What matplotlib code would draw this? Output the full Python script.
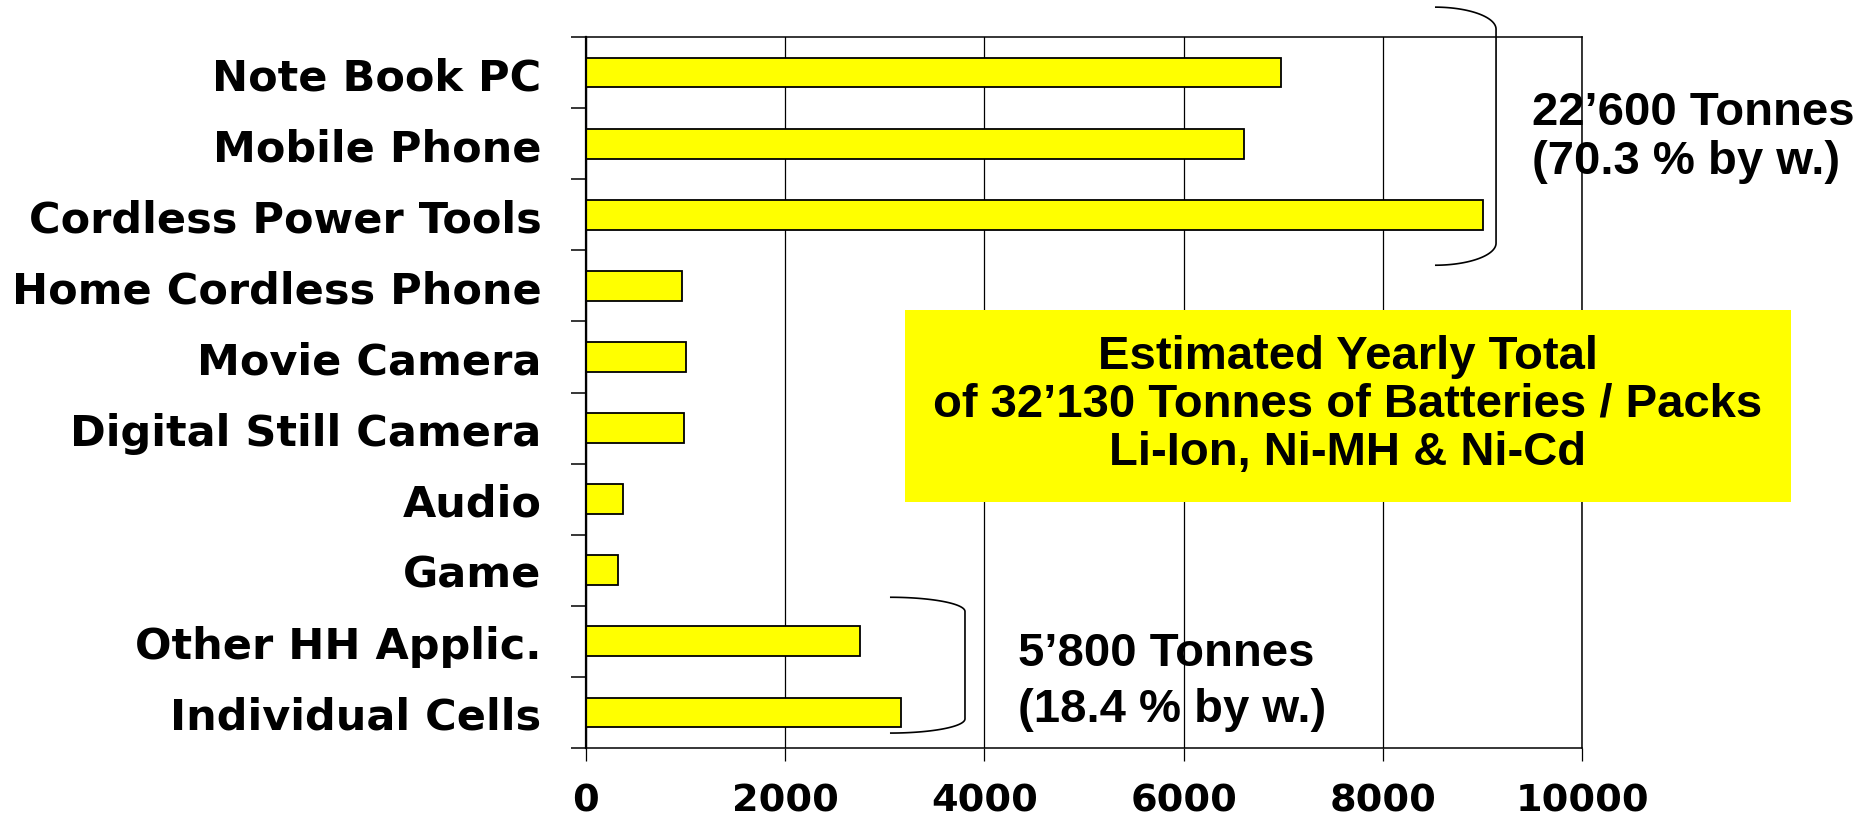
import numpy as np
import matplotlib
matplotlib.use("Agg")
import matplotlib.pyplot as plt
from matplotlib.patches import Rectangle
from matplotlib.ticker import FixedLocator

categories = ['Note Book PC', 'Mobile Phone', 'Cordless Power Tools', 'Home Cordless Phone',
              'Movie Camera', 'Digital Still Camera', 'Audio', 'Game',
              'Other HH Applic.', 'Individual Cells']
tonnes = [6980, 6610, 9010, 960, 1000, 980, 370, 320, 2750, 3160]
x_ticks = [0, 2000, 4000, 6000, 8000, 10000]

big_group = "22\u2019600 Tonnes\n(70.3 % by w.)"
small_group = "5\u2019800 Tonnes\n(18.4 % by w.)"
total_text = ("Estimated Yearly Total\n"
              "of 32\u2019130 Tonnes of Batteries / Packs\n"
              "Li-Ion, Ni-MH & Ni-Cd")

W, H = 1864, 820


def bracket(ax, x_open, x_spine, y_top, y_bot, dy):
    # curly-ish bracket: rounded corners joined by a vertical stroke
    t = np.linspace(0, np.pi / 2, 40)
    rx = x_spine - x_open
    xs_top = x_open + rx * np.sin(t)
    ys_top = y_top + dy - dy * np.cos(t)
    xs_bot = x_open + rx * np.cos(t)
    ys_bot = y_bot - dy + dy * np.sin(t)
    ax.plot(np.r_[xs_top, xs_bot], np.r_[ys_top, ys_bot], color='black',
            lw=1.2, clip_on=False, zorder=3, solid_capstyle='butt')


fig = plt.figure(figsize=(W / 100, H / 100), dpi=100)
ax = fig.add_axes([586 / W, 71 / H, 996 / W, 711 / H])

y = np.arange(len(categories))
ax.barh(y, tonnes, height=0.42, color='#FFFF00', edgecolor='black',
        linewidth=1.3, zorder=1)

ax.set_xlim(0, 10000)
ax.set_ylim(len(categories) - 0.5, -0.5)
ax.set_xticks(x_ticks)
ax.set_xticklabels([str(v) for v in x_ticks], fontsize=27.5, fontweight='bold',
                   family='DejaVu Sans')
ax.set_yticks(y)
ax.set_yticklabels(categories, fontsize=31, fontweight='bold', family='DejaVu Sans')
ax.yaxis.set_minor_locator(FixedLocator(np.arange(-0.5, len(categories), 1)))

ax.tick_params(axis='y', which='major', length=0, pad=32)
ax.tick_params(axis='y', which='minor', length=11, width=1.1, direction='out')
ax.tick_params(axis='x', which='major', length=9, width=0.9, direction='out', pad=16)

ax.grid(axis='x', color='black', lw=0.9)
ax.set_axisbelow(True)
for side in ['top', 'right', 'bottom']:
    ax.spines[side].set_linewidth(1.1)
ax.spines['left'].set_linewidth(1.6)

# group totals with their brackets
bracket(ax, 8524, 9137, -0.92, 2.71, 0.31)
bracket(ax, 3052, 3805, 7.38, 9.29, 0.20)

ax.text(9500, 0.24, big_group, fontsize=34, fontweight='bold', family='Liberation Sans',
        ha='left', va='top', linespacing=1.17, clip_on=False, zorder=0.2)
ax.text(4337, 7.86, small_group, fontsize=34, fontweight='bold', family='Liberation Sans',
        ha='left', va='top', linespacing=1.33, clip_on=False, zorder=0.2)

# yearly total box
ax.add_patch(Rectangle((3203, 3.34), 8897, 2.70, facecolor='#FFFF00',
                       edgecolor='none', clip_on=False, zorder=5))
ax.text(7650, 4.66, total_text, fontsize=34, fontweight='bold', family='Liberation Sans',
        ha='center', va='center', multialignment='center', linespacing=1.12,
        clip_on=False, zorder=6)

fig.savefig('out.png', dpi=100)
